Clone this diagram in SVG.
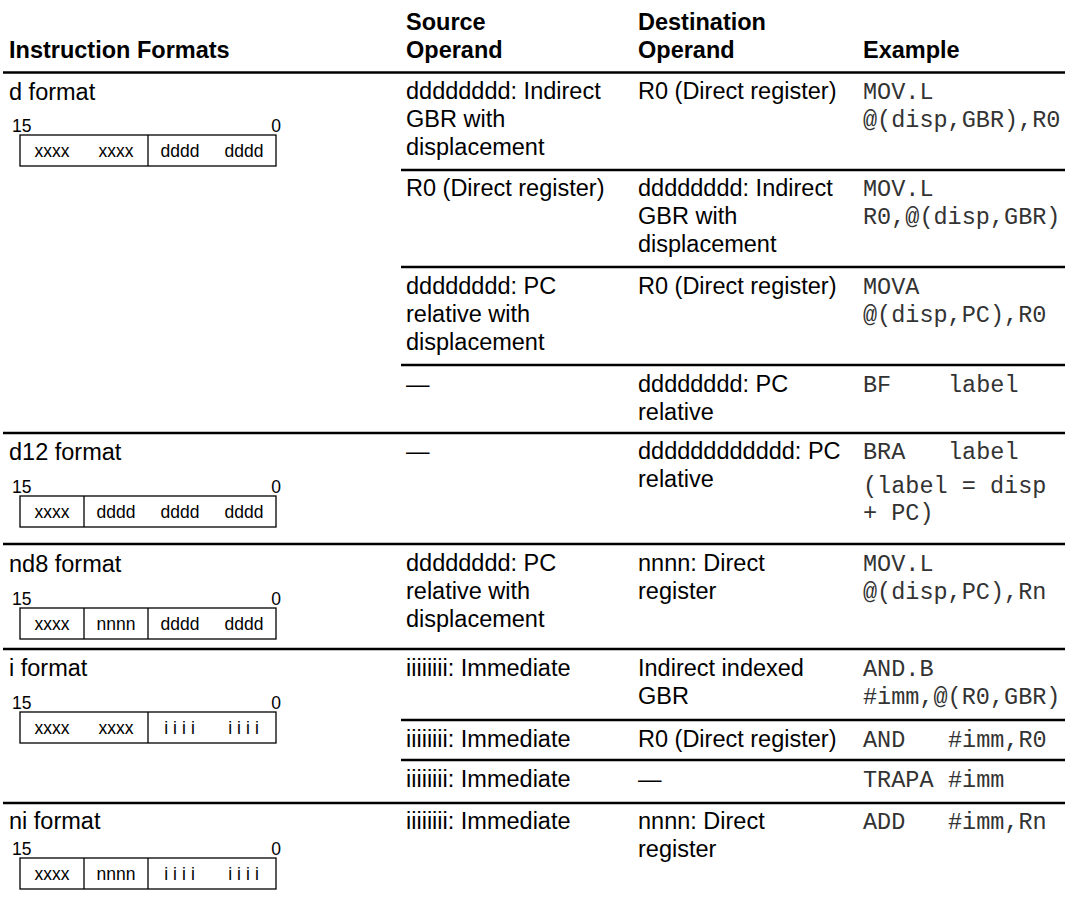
<svg xmlns="http://www.w3.org/2000/svg" width="1065" height="904" viewBox="0 0 1065 904">
<style>
.t{font-family:"Liberation Sans",Arial,sans-serif;font-size:23.5px;fill:#000}
.h{font-weight:bold}
.m{font-family:"Liberation Mono","Courier New",monospace;font-size:23.5px;fill:#333}
.b{font-family:"Liberation Sans",Arial,sans-serif;font-size:17.5px;fill:#000;text-anchor:middle}
.n{font-family:"Liberation Sans",Arial,sans-serif;font-size:17.5px;fill:#000}
.sp{letter-spacing:5px}
.rule{stroke:#000;stroke-width:2.6}
.box{fill:none;stroke:#000;stroke-width:1.3}
</style>
<defs>
<rect id="bitbox" class="box" width="256" height="31"/>
</defs>
<rect width="1065" height="904" fill="#fff"/>

<g id="header">
<text class="t h" x="9" y="58">Instruction Formats</text>
<text class="t h" x="406" y="30">Source</text>
<text class="t h" x="406" y="58">Operand</text>
<text class="t h" x="638" y="30">Destination</text>
<text class="t h" x="638" y="58">Operand</text>
<text class="t h" x="863" y="58">Example</text>
</g>

<g id="rules">
<line class="rule" x1="3" y1="72.5" x2="1065" y2="72.5"/>
<line class="rule" x1="401" y1="170" x2="1065" y2="170"/>
<line class="rule" x1="401" y1="267" x2="1065" y2="267"/>
<line class="rule" x1="401" y1="365" x2="1065" y2="365"/>
<line class="rule" x1="3" y1="433" x2="1065" y2="433"/>
<line class="rule" x1="3" y1="544" x2="1065" y2="544"/>
<line class="rule" x1="3" y1="649" x2="1065" y2="649"/>
<line class="rule" x1="401" y1="720" x2="1065" y2="720"/>
<line class="rule" x1="401" y1="760" x2="1065" y2="760"/>
<line class="rule" x1="3" y1="803" x2="1065" y2="803"/>
</g>

<g id="fmt-d">
<text class="t" x="9" y="100">d format</text>
<text class="n" x="12" y="132">15</text>
<text class="n" x="281" y="132" text-anchor="end">0</text>
<use href="#bitbox" x="20" y="135"/>
<line class="box" x1="148" y1="135" x2="148" y2="166"/>
<text class="b" x="52" y="157">xxxx</text>
<text class="b" x="116" y="157">xxxx</text>
<text class="b" x="180" y="157">dddd</text>
<text class="b" x="244" y="157">dddd</text>
</g>

<g id="row-d1">
<text class="t" x="406" y="99">dddddddd: Indirect</text>
<text class="t" x="406" y="127">GBR with</text>
<text class="t" x="406" y="155">displacement</text>
<text class="t" x="638" y="99">R0 (Direct register)</text>
<text class="m" x="863" y="99">MOV.L</text>
<text class="m" x="863" y="127">@(disp,GBR),R0</text>
</g>

<g id="row-d2">
<text class="t" x="406" y="196">R0 (Direct register)</text>
<text class="t" x="638" y="196">dddddddd: Indirect</text>
<text class="t" x="638" y="224">GBR with</text>
<text class="t" x="638" y="252">displacement</text>
<text class="m" x="863" y="196">MOV.L</text>
<text class="m" x="863" y="224">R0,@(disp,GBR)</text>
</g>

<g id="row-d3">
<text class="t" x="406" y="294">dddddddd: PC</text>
<text class="t" x="406" y="322">relative with</text>
<text class="t" x="406" y="350">displacement</text>
<text class="t" x="638" y="294">R0 (Direct register)</text>
<text class="m" x="863" y="294">MOVA</text>
<text class="m" x="863" y="322">@(disp,PC),R0</text>
</g>

<g id="row-d4">
<text class="t" x="406" y="392">—</text>
<text class="t" x="638" y="392">dddddddd: PC</text>
<text class="t" x="638" y="420">relative</text>
<text class="m" x="863" y="392">BF</text>
<text class="m" x="948" y="392">label</text>
</g>

<g id="fmt-d12">
<text class="t" x="9" y="460">d12 format</text>
<text class="n" x="12" y="493">15</text>
<text class="n" x="281" y="493" text-anchor="end">0</text>
<use href="#bitbox" x="20" y="496"/>
<line class="box" x1="84" y1="496" x2="84" y2="527"/>
<text class="b" x="52" y="518">xxxx</text>
<text class="b" x="116" y="518">dddd</text>
<text class="b" x="180" y="518">dddd</text>
<text class="b" x="244" y="518">dddd</text>
</g>

<g id="row-d12">
<text class="t" x="406" y="459">—</text>
<text class="t" x="638" y="459">dddddddddddd: PC</text>
<text class="t" x="638" y="487">relative</text>
<text class="m" x="863" y="459">BRA</text>
<text class="m" x="948" y="459">label</text>
<text class="m" x="863" y="493">(label = disp</text>
<text class="m" x="863" y="520">+ PC)</text>
</g>

<g id="fmt-nd8">
<text class="t" x="9" y="572">nd8 format</text>
<text class="n" x="12" y="605">15</text>
<text class="n" x="281" y="605" text-anchor="end">0</text>
<use href="#bitbox" x="20" y="608"/>
<line class="box" x1="84" y1="608" x2="84" y2="639"/>
<line class="box" x1="148" y1="608" x2="148" y2="639"/>
<text class="b" x="52" y="630">xxxx</text>
<text class="b" x="116" y="630">nnnn</text>
<text class="b" x="180" y="630">dddd</text>
<text class="b" x="244" y="630">dddd</text>
</g>

<g id="row-nd8">
<text class="t" x="406" y="571">dddddddd: PC</text>
<text class="t" x="406" y="599">relative with</text>
<text class="t" x="406" y="627">displacement</text>
<text class="t" x="638" y="571">nnnn: Direct</text>
<text class="t" x="638" y="599">register</text>
<text class="m" x="863" y="571">MOV.L</text>
<text class="m" x="863" y="599">@(disp,PC),Rn</text>
</g>

<g id="fmt-i">
<text class="t" x="9" y="676">i format</text>
<text class="n" x="12" y="709">15</text>
<text class="n" x="281" y="709" text-anchor="end">0</text>
<use href="#bitbox" x="20" y="712"/>
<line class="box" x1="148" y1="712" x2="148" y2="743"/>
<text class="b" x="52" y="734">xxxx</text>
<text class="b" x="116" y="734">xxxx</text>
<text class="b sp" x="182" y="734">iiii</text>
<text class="b sp" x="246" y="734">iiii</text>
</g>

<g id="row-i1">
<text class="t" x="406" y="676">iiiiiiii: Immediate</text>
<text class="t" x="638" y="676">Indirect indexed</text>
<text class="t" x="638" y="704">GBR</text>
<text class="m" x="863" y="676">AND.B</text>
<text class="m" x="863" y="704">#imm,@(R0,GBR)</text>
</g>

<g id="row-i2">
<text class="t" x="406" y="747">iiiiiiii: Immediate</text>
<text class="t" x="638" y="747">R0 (Direct register)</text>
<text class="m" x="863" y="747">AND</text>
<text class="m" x="948" y="747">#imm,R0</text>
</g>

<g id="row-i3">
<text class="t" x="406" y="787">iiiiiiii: Immediate</text>
<text class="t" x="638" y="787">—</text>
<text class="m" x="863" y="787">TRAPA</text>
<text class="m" x="948" y="787">#imm</text>
</g>

<g id="fmt-ni">
<text class="t" x="9" y="829">ni format</text>
<text class="n" x="12" y="855">15</text>
<text class="n" x="281" y="855" text-anchor="end">0</text>
<use href="#bitbox" x="20" y="858"/>
<line class="box" x1="84" y1="858" x2="84" y2="889"/>
<line class="box" x1="148" y1="858" x2="148" y2="889"/>
<text class="b" x="52" y="880">xxxx</text>
<text class="b" x="116" y="880">nnnn</text>
<text class="b sp" x="182" y="880">iiii</text>
<text class="b sp" x="246" y="880">iiii</text>
</g>

<g id="row-ni">
<text class="t" x="406" y="829">iiiiiiii: Immediate</text>
<text class="t" x="638" y="829">nnnn: Direct</text>
<text class="t" x="638" y="857">register</text>
<text class="m" x="863" y="829">ADD</text>
<text class="m" x="948" y="829">#imm,Rn</text>
</g>
</svg>
